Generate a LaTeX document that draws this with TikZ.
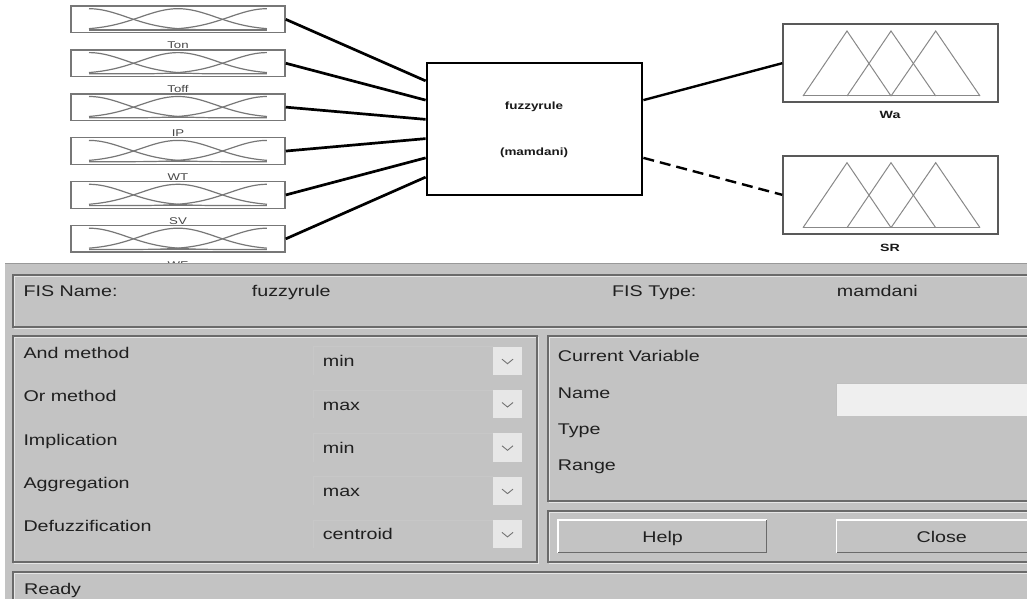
\documentclass[tikz,border=0pt]{standalone}
\usepackage{graphicx}
\usepackage{fontspec}
\setmainfont{Liberation Sans}
\usetikzlibrary{calc}

\definecolor{panel}{HTML}{C3C3C3}
\definecolor{mfgray}{HTML}{777777}
\definecolor{trigray}{HTML}{888888}
\definecolor{etchdark}{HTML}{6A6A6A}
\definecolor{etchlight}{HTML}{E6E6E6}
\definecolor{txt}{HTML}{202020}
\definecolor{fieldlight}{HTML}{EFEFEF}
\definecolor{arrowbox}{HTML}{E7E7E7}

% horizontally widened GUI lettering
\newcommand{\widetxt}[1]{\scalebox{1.27}[1]{#1}}
\newcommand{\widelab}[1]{\scalebox{1.35}[1]{#1}}

\tikzset{
  inbox/.style={draw=mfgray, line width=1.5pt, minimum width=214pt, minimum height=26.7pt, inner sep=0pt},
  outbox/.style={draw=black!65, line width=1.7pt, minimum width=214.7pt, minimum height=78.3pt, inner sep=0pt},
  rulebox/.style={draw=black, line width=2.8pt, minimum width=215pt, minimum height=132pt, inner sep=0pt, fill=white},
  mf/.style={draw=mfgray, line width=1.2pt},
  tri/.style={draw=trigray, line width=1pt},
  conn/.style={draw=black, line width=2.7pt},
  connout/.style={draw=black, line width=2.4pt},
  conndash/.style={draw=black, line width=2.4pt, dash pattern=on 11pt off 6pt},
  inlab/.style={font=\fontsize{9.8}{11}\selectfont, text=black!72, inner sep=0pt, anchor=base},
  boldlab/.style={font=\fontsize{10.5}{12}\selectfont\bfseries, text=black!90, inner sep=0pt, anchor=base},
  ptxt/.style={font=\fontsize{15.5}{18}\selectfont, text=txt, inner sep=0pt, anchor=base west},
  ctxt/.style={font=\fontsize{15.5}{18}\selectfont, text=txt, inner sep=0pt, anchor=base},
  etchframe/.style={draw=etchdark, line width=1.2pt},
  etchhi/.style={draw=etchlight, line width=1pt},
}

\begin{document}
\begin{tikzpicture}[x=1pt, y=-1pt]
\useasboundingbox (0,0) rectangle (1027,599);
\clip (0,0) rectangle (1027,599);
\fill[white] (0,0) rectangle (1027,599);

% ---------- input membership-function blocks ----------
\foreach \i/\nm in {0/Ton,1/Toff,2/IP,3/WT,4/SV,5/WF} {
  \pgfmathsetmacro{\T}{6+43.9*\i}
  \node[inbox] (ib\i) at (178,\T+13.35) {};
  \draw[mf] plot[domain=0:2, samples=60, variable=\t]
     ({89+89*\t},{\T+24-21.3*exp(-1*(\t)*(\t)/0.361)});
  \draw[mf] plot[domain=0:2, samples=60, variable=\t]
     ({89+89*\t},{\T+24-21.3*exp(-1*(\t-1)*(\t-1)/0.361)});
  \draw[mf] plot[domain=0:2, samples=60, variable=\t]
     ({89+89*\t},{\T+24-21.3*exp(-1*(\t-2)*(\t-2)/0.361)});
  \draw[mf] (89,\T+24) -- (267,\T+24);
  \node[inlab] (lab\i) at (178,\T+43) {\widelab{\nm}};
}

% ---------- rule block ----------
\node[rulebox] (rule) at (534.5,129) {};
\node[boldlab, font=\fontsize{10.5}{12}\selectfont\bfseries] (rname) at (534,110) {\scalebox{1.28}[1]{fuzzyrule}};
\node[boldlab, font=\fontsize{10.5}{12}\selectfont\bfseries] (rtype) at (534,155) {\scalebox{1.28}[1]{(mamdani)}};

\foreach \k in {1,...,6} {
  \coordinate (rin\k) at ($(rule.north west)!{\k/7}!(rule.south west)$);
}
\coordinate (rout2) at ($(rule.north east)!{2/7}!(rule.south east)$);
\coordinate (rout5) at ($(rule.north east)!{5/7}!(rule.south east)$);

% ---------- output blocks ----------
\node[outbox] (wa) at (890.5,63.2) {};
\node[outbox] (sr) at (890.5,194.85) {};
\foreach \Y in {24,155.7} {
  \draw[tri] (803,\Y+72) -- (847,\Y+7) -- (891,\Y+72);
  \draw[tri] (847,\Y+72) -- (891,\Y+7) -- (935.7,\Y+72);
  \draw[tri] (891,\Y+72) -- (935.7,\Y+7) -- (980,\Y+72);
  \draw[tri] (803,\Y+72) -- (980,\Y+72);
}
\node[boldlab] (walab) at (890,119) {\widelab{Wa}};
\node[boldlab] (srlab) at (890,251.7) {\widelab{SR}};

% ---------- connectors ----------
\foreach \i [evaluate=\i as \k using int(\i+1)] in {0,...,5} {
  \draw[conn] (ib\i.east) -- (rin\k);
}
\draw[connout] (rout2) -- (wa.west);
\draw[conndash] (rout5) -- (sr.west);

% ---------- FIS editor panel ----------
\fill[panel] (5,263.5) rectangle (1035,605);
\draw[black!40, line width=1pt] (5,263.5) -- (1035,263.5);

% etched frames
\foreach \xa/\ya/\xb/\yb in {13/275/1040/327, 13/336/537/562, 548/336/1040/501, 548/511/1040/562, 13/572/1040/640} {
  \draw[etchhi] (\xa+1.2,\ya+1.2) rectangle (\xb+1.2,\yb+1.2);
  \draw[etchframe] (\xa,\ya) rectangle (\xb,\yb);
}

% header row
\node[ptxt] (fisname) at (23.3,296) {\widetxt{FIS Name:}};
\node[ptxt] (fisnamev) at (251.7,296) {\widetxt{fuzzyrule}};
\node[ptxt] (fistype) at (612,296) {\widetxt{FIS Type:}};
\node[ptxt] (fistypev) at (836.7,296) {\widetxt{mamdani}};

% method rows with drop-down lists
\foreach \i/\lab/\val in {0/And method/min, 1/Or method/max, 2/Implication/min, 3/Aggregation/max, 4/Defuzzification/centroid} {
  \pgfmathsetmacro{\Y}{346.7+43.3*\i}
  \draw[black!22, line width=0.8pt] (313.3,\Y+28.3) -- (313.3,\Y) -- (493.3,\Y);
  \fill[arrowbox] (493.3,\Y) rectangle (521.7,\Y+28.3);
  \draw[black!55, line width=0.9pt] (502,\Y+12.5) -- (507.5,\Y+17) -- (513,\Y+12.5);
  \node[ptxt] (mlab\i) at (23.3,358.5+43.3*\i) {\widetxt{\lab}};
  \node[ptxt] (mval\i) at (322.7,366.7+43.3*\i) {\widetxt{\val}};
}

% current variable block
\node[ptxt] (curvar) at (557.7,361) {\widetxt{Current Variable}};
\node[ptxt] (vname) at (557.7,398.3) {\widetxt{Name}};
\node[ptxt] (vtype) at (557.7,434) {\widetxt{Type}};
\node[ptxt] (vrange) at (557.7,470) {\widetxt{Range}};
\fill[fieldlight] (836.7,383.3) rectangle (1040,416);
\draw[black!25, line width=0.8pt] (836.7,416) -- (836.7,383.3) -- (1040,383.3);

% buttons
\foreach \xa/\xb in {558/766.5, 836.7/1040} {
  \draw[white, line width=1.5pt] (\xa,552.5) -- (\xa,519.8) -- (\xb,519.8);
  \draw[etchdark, line width=1.3pt] (\xa,552.5) -- (\xb,552.5) -- (\xb,519.8);
}
\node[ctxt] (help) at (662.7,542) {\widetxt{Help}};
\node[ctxt] (close) at (941.7,542) {\widetxt{Close}};

% status line
\node[ptxt] (ready) at (24,594) {\widetxt{Ready}};
\end{tikzpicture}
\end{document}
